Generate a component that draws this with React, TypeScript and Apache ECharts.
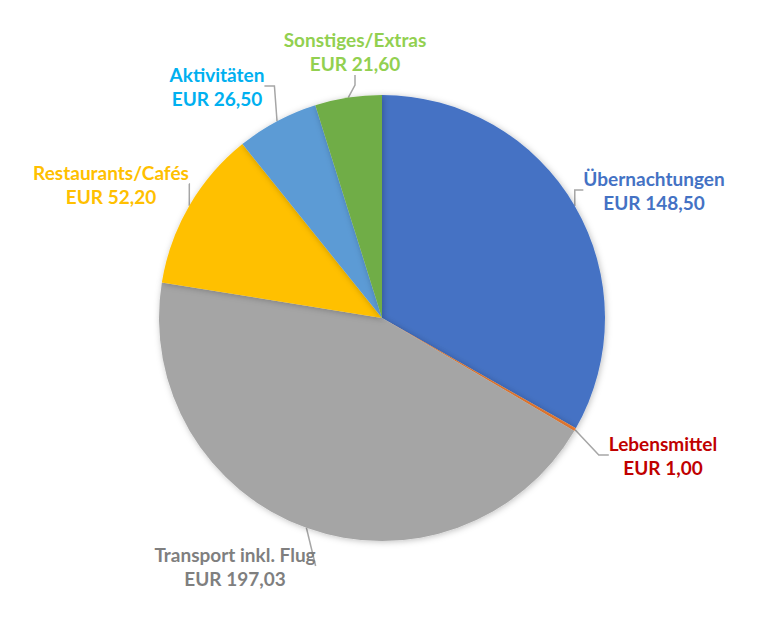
import React, { useEffect, useRef } from "react";
import * as echarts from "echarts";

const categories = ["Übernachtungen", "Lebensmittel", "Transport inkl. Flug", "Restaurants/Cafés", "Aktivitäten", "Sonstiges/Extras"];
const values = [148.5, 1.0, 197.03, 52.2, 26.5, 21.6];
const valueLabels = ["EUR 148,50", "EUR 1,00", "EUR 197,03", "EUR 52,20", "EUR 26,50", "EUR 21,60"];
const sliceColors = ["#4472C4", "#ED7D31", "#A5A5A5", "#FFC000", "#5B9BD5", "#70AD47"];
const labelColors = ["#4472C4", "#C00000", "#7F7F7F", "#FFC000", "#00B0F0", "#92D050"];
const labelPositions: [number, number][] = [
  [654, 190],
  [663, 455],
  [235, 566],
  [111, 184],
  [217, 86],
  [355, 51],
];

export default function App() {
  const ref = useRef<HTMLDivElement>(null);
  useEffect(() => {
    if (!ref.current) return;
    const chart = echarts.init(ref.current, undefined, { renderer: "svg" });
    chart.setOption({
      animation: false,
      backgroundColor: "#ffffff",
      series: [
        {
          type: "pie",
          center: [382, 318],
          radius: 223,
          startAngle: 90,
          clockwise: true,
          avoidLabelOverlap: false,
          itemStyle: {
            shadowBlur: 6,
            shadowColor: "rgba(0,0,0,0.25)",
            shadowOffsetX: 1,
            shadowOffsetY: 1,
          },
          data: categories.map((c, i) => ({
            name: c,
            value: values[i],
            itemStyle: { color: sliceColors[i] },
            label: { color: labelColors[i] },
          })),
          label: {
            show: true,
            position: "outside",
            formatter: (p: any) => `${p.name}\n${valueLabels[p.dataIndex]}`,
            fontFamily: "Lato, 'Open Sans', sans-serif",
            fontWeight: "bold",
            fontSize: 19,
            lineHeight: 24,
            align: "center",
          },
          labelLine: {
            show: true,
            length: 10,
            length2: 10,
            lineStyle: { color: "#A6A6A6", width: 1.5 },
          },
          labelLayout: (params: any) => {
            const pos = labelPositions[params.dataIndex];
            return {
              x: pos[0],
              y: pos[1],
              align: "center",
              verticalAlign: "middle",
            };
          },
        },
      ],
    });
    return () => chart.dispose();
  }, []);
  return (
    <div
      ref={ref}
      style={{ position: "absolute", left: 0, top: 0, width: 769, height: 621 }}
    />
  );
}
